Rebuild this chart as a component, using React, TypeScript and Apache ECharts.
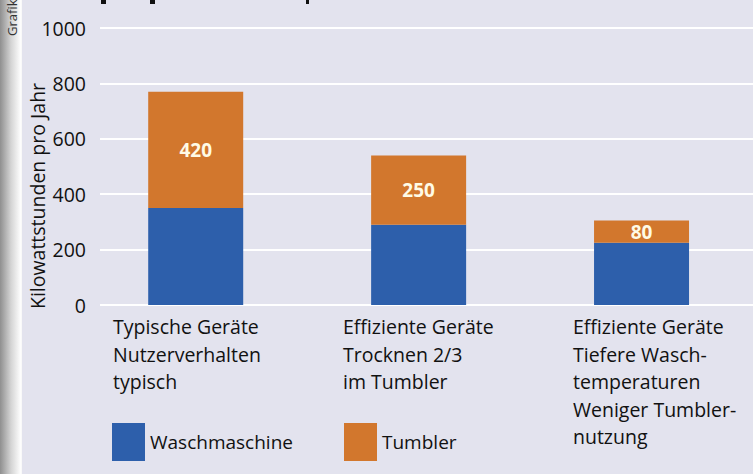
import React, { useEffect, useRef } from "react";
import * as echarts from "echarts";

const categories = [
  "Typische Geräte\nNutzerverhalten\ntypisch",
  "Effiziente Geräte\nTrocknen 2/3\nim Tumbler",
  "Effiziente Geräte\nTiefere Wasch-\ntemperaturen\nWeniger Tumbler-\nnutzung",
];
const waschmaschine = [350, 290, 225];
const tumbler = [420, 250, 80];
const yTicks = [0, 200, 400, 600, 800, 1000];
const yName = "Kilowattstunden pro Jahr";
const seriesNames = ["Waschmaschine", "Tumbler"];

const BLUE = "#2d5fab";
const ORANGE = "#d2772d";
const BG = "#e3e3ee";
const FONT = "'Open Sans', sans-serif";

export default function App() {
  const ref = useRef<HTMLDivElement>(null);
  useEffect(() => {
    document.body.style.margin = "0";
    const chart = echarts.init(ref.current!, null, { renderer: "svg" });
    const top = 28;
    const bottom = 474 - 305;
    const labelX = [113, 343, 573];
    chart.setOption({
      animation: false,
      backgroundColor: BG,
      textStyle: { fontFamily: FONT },
      grid: [
        { left: 100, right: 0, top, bottom },
        { left: 84.25, width: 673.5, top, bottom },
      ],
      xAxis: [
        { gridIndex: 0, type: "value", show: false, min: 0, max: 1 },
        {
          gridIndex: 1,
          type: "category",
          data: categories,
          show: false,
        },
      ],
      yAxis: [
        {
          gridIndex: 0,
          type: "value",
          min: yTicks[0],
          max: yTicks[yTicks.length - 1],
          interval: 200,
          axisLine: { show: false },
          axisTick: { show: false },
          axisLabel: {
            fontSize: 19.5,
            color: "#111",
            margin: 14,
            fontFamily: FONT,
            formatter: (v: number) => String(v),
          },
          splitLine: { lineStyle: { color: "#ffffff", width: 2 } },
        },
        {
          gridIndex: 1,
          type: "value",
          min: yTicks[0],
          max: yTicks[yTicks.length - 1],
          show: false,
          splitLine: { show: false },
        },
      ],
      legend: [
        {
          left: 112,
          top: 423,
          padding: 0,
          itemWidth: 33,
          itemHeight: 38,
          data: [seriesNames[0]],
          textStyle: { fontSize: 19, color: "#111", fontFamily: FONT },
          icon: "rect",
        },
        {
          left: 344,
          top: 423,
          padding: 0,
          itemWidth: 33,
          itemHeight: 38,
          data: [seriesNames[1]],
          textStyle: { fontSize: 19, color: "#111", fontFamily: FONT },
          icon: "rect",
        },
      ],
      series: [
        {
          name: seriesNames[0],
          type: "bar",
          xAxisIndex: 1,
          yAxisIndex: 1,
          stack: "a",
          barWidth: 95,
          data: waschmaschine,
          itemStyle: { color: BLUE },
        },
        {
          name: seriesNames[1],
          type: "bar",
          xAxisIndex: 1,
          yAxisIndex: 1,
          stack: "a",
          barWidth: 95,
          data: tumbler,
          itemStyle: { color: ORANGE },
          label: {
            show: true,
            position: "inside",
            color: "#fffbe6",
            fontWeight: "bold",
            fontSize: 19,
            fontFamily: FONT,
          },
        },
      ],
      graphic: [
        {
          type: "rect",
          left: 0,
          top: 0,
          shape: { width: 22, height: 474 },
          style: {
            fill: new echarts.graphic.LinearGradient(0, 0, 1, 0, [
              { offset: 0, color: "#8f8f8f" },
              { offset: 0.5, color: "#d4d4d4" },
              { offset: 0.95, color: "#ffffff" },
              { offset: 1, color: "#f4f4f4" },
            ]),
          },
          z: 10,
        },
        {
          type: "text",
          x: 18,
          y: 36,
          rotation: Math.PI / 2,
          style: {
            text: "Grafik",
            fontSize: 13,
            fill: "#333",
            fontFamily: FONT,
            align: "left",
            verticalAlign: "bottom",
          },
          z: 11,
        },
        ...[
          [101, 5],
          [150, 5],
          [306, 3],
        ].map(([x, w]) => ({
          type: "rect",
          shape: { x, y: 0, width: w, height: 4 },
          style: { fill: "#111" },
          z: 5,
        })),
        {
          type: "text",
          x: 37,
          y: 196,
          rotation: Math.PI / 2,
          style: {
            text: yName,
            fontSize: 19.5,
            fill: "#111",
            fontFamily: FONT,
            align: "center",
            verticalAlign: "middle",
          },
        },
        ...categories.map((c, i) => ({
          type: "text",
          x: labelX[i],
          y: 313,
          style: {
            text: c,
            fontSize: 19.5,
            lineHeight: 27.5,
            fill: "#111",
            fontFamily: FONT,
            align: "left",
            verticalAlign: "top",
          },
        })),
      ],
    });
    return () => chart.dispose();
  }, []);
  return <div ref={ref} style={{ width: 753, height: 474 }} />;
}
